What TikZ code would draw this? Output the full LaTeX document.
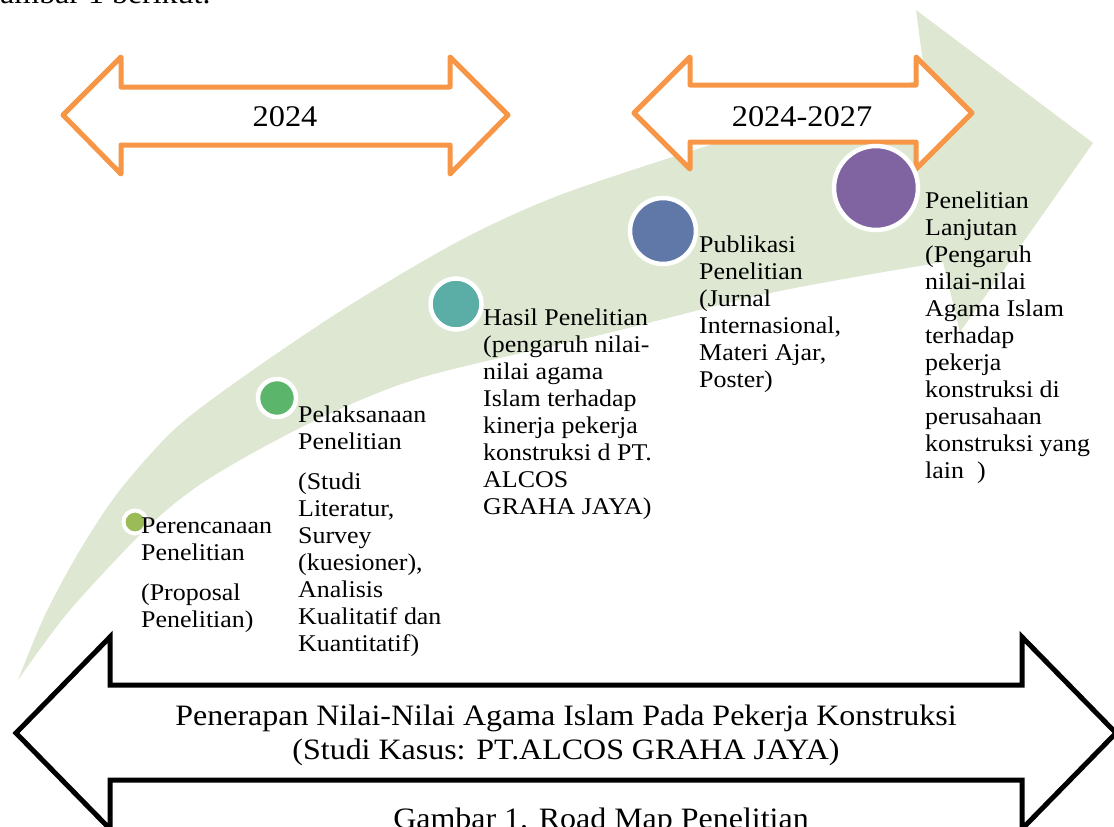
\documentclass[tikz,border=0pt]{standalone}
\usepackage{fontspec}
\setmainfont[FakeStretch=1.08]{Liberation Serif}
\usetikzlibrary{positioning}
\definecolor{bandgreen}{RGB}{221,231,209}
\definecolor{yearorange}{RGB}{247,150,70}
\definecolor{stepolive}{RGB}{155,187,89}
\definecolor{stepgreen}{RGB}{91,181,107}
\definecolor{stepteal}{RGB}{90,174,165}
\definecolor{stepblue}{RGB}{95,120,168}
\definecolor{steppurple}{RGB}{128,100,162}

\begin{document}
\begin{tikzpicture}[x=1pt,y=-1pt,
  dot/.style={circle,draw=white,line width=4.5pt,inner sep=0pt},
  stage/.style={anchor=north west,align=left,inner sep=0pt,font=\fontsize{24}{27}\selectfont},
  yearbox/.style={draw=yearorange,line width=5pt,fill=white,line join=round},
  themebox/.style={draw=black,line width=5pt,fill=white,line join=miter},
  bigtext/.style={font=\fontsize{29.6}{34}\selectfont}]
       \useasboundingbox (0,0) rectangle (1114,827);

       \fill[bandgreen] plot[smooth] coordinates {(18,680) (45,615) (80,550) (120,490) (177,427) (253,370)
              (350,305) (461,240) (560,195) (713,144) (925,78)}
              -- (916,10) -- (1093,143) -- (960,332) -- (943,262)
              -- plot[smooth] coordinates {(943,262) (775,292) (600,335) (420,378) (310,423) (210,478)
              (150,525) (70,610) (18,680)} -- cycle;

       \draw[yearbox] (63,115) -- (121,57) -- (121,87) -- (450,87) -- (450,57) -- (508,115)
              -- (450,174) -- (450,145) -- (121,145) -- (121,174) -- cycle;
       \node[font=\fontsize{30}{34}\selectfont] (yearone) at (285,117) {2024};

       \draw[yearbox] (634,113) -- (690,57) -- (690,85) -- (916,85) -- (916,57) -- (972,113)
              -- (916,169) -- (916,142) -- (690,142) -- (690,169) -- cycle;
       \node[font=\fontsize{30}{34}\selectfont] (yeartwo) at (802,117) {2024-2027};

       \draw[themebox] (16,733) -- (110,637) -- (110,685) -- (1022,685) -- (1022,637) -- (1116,733)
              -- (1022,829) -- (1022,780) -- (110,780) -- (110,829) -- cycle;
       \node[bigtext,align=center] (theme) at (566,735)
              {Penerapan Nilai-Nilai Agama Islam Pada Pekerja Konstruksi\\(Studi Kasus: PT.ALCOS GRAHA JAYA)};

       \node[dot,fill=stepolive,minimum size=23pt,line width=4pt] (plan) at (135,522) {};
       \node[dot,fill=stepgreen,minimum size=38pt] (run) at (277,398) {};
       \node[dot,fill=stepteal,minimum size=51pt] (result) at (456,304) {};
       \node[dot,fill=stepblue,minimum size=66pt] (publish) at (663,231) {};
       \node[dot,fill=steppurple,minimum size=84pt] (further) at (876,188) {};

       \node[stage] (plantext) at (141,518) {Perencanaan\\Penelitian\\[13pt](Proposal\\Penelitian)};
       \node[stage] (runtext) at (298,406) {Pelaksanaan\\Penelitian\\[13pt](Studi\\Literatur,\\Survey\\(kuesioner),\\Analisis\\Kualitatif dan\\Kuantitatif)};
       \node[stage] (resulttext) at (483,309) {Hasil Penelitian\\(pengaruh nilai-\\nilai agama\\Islam terhadap\\kinerja pekerja\\konstruksi d PT.\\ALCOS\\GRAHA JAYA)};
       \node[stage] (publishtext) at (699,236) {Publikasi\\Penelitian\\(Jurnal\\Internasional,\\Materi Ajar,\\Poster)};
       \node[stage] (furthertext) at (925,192) {Penelitian\\Lanjutan\\(Pengaruh\\nilai-nilai\\Agama Islam\\terhadap\\pekerja\\konstruksi di\\perusahaan\\konstruksi yang\\lain~~)};

       \node[bigtext,anchor=base west,inner sep=0pt] (lead) at (0,4) {ambar 1 berikut.};
       \node[bigtext,anchor=base,inner sep=0pt] (caption) at (601,828) {Gambar 1. Road Map Penelitian};
\end{tikzpicture}
\end{document}
